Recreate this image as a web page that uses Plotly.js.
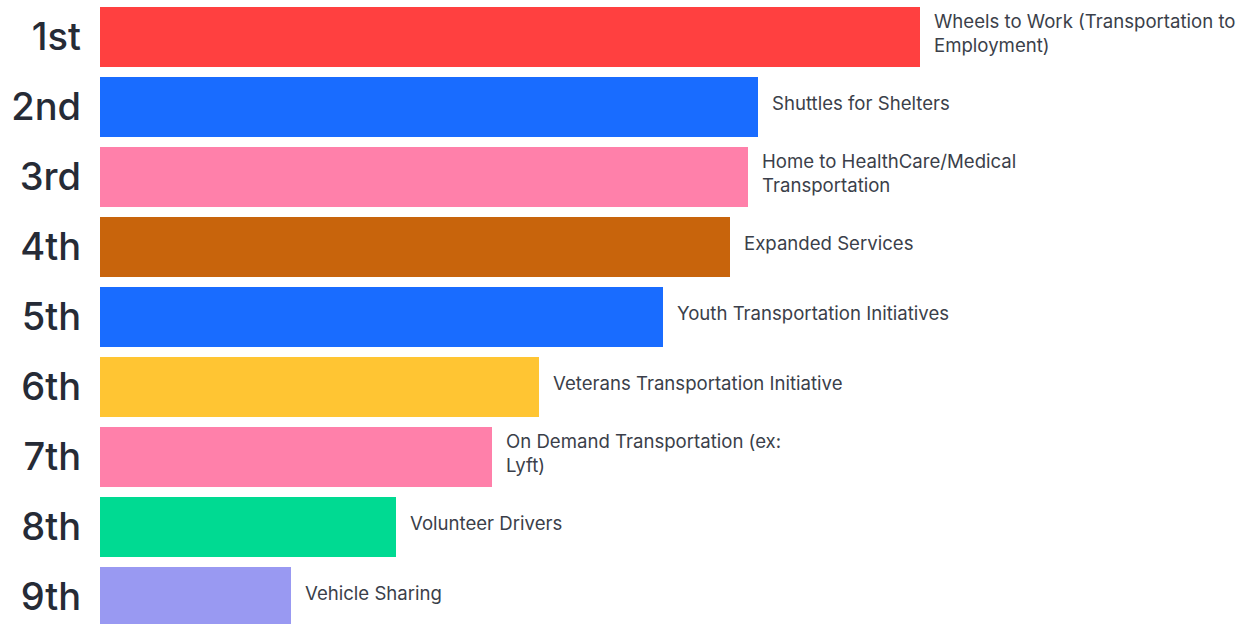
<!DOCTYPE html>
<html>
<head>
<meta charset="utf-8">
<script src="https://cdn.plot.ly/plotly-3.0.1.min.js"></script>
<style>html,body{margin:0;padding:0;background:#fff;}#chart{width:1254px;height:624px;}</style>
</head>
<body>
<div id="chart"></div>
<script>
const ranks = ["1st","2nd","3rd","4th","5th","6th","7th","8th","9th"];
const labels = [
  "Wheels to Work (Transportation to<br>Employment)",
  "Shuttles for Shelters",
  "Home to HealthCare/Medical<br>Transportation",
  "Expanded Services",
  "Youth Transportation Initiatives",
  "Veterans Transportation Initiative",
  "On Demand Transportation (ex:<br>Lyft)",
  "Volunteer Drivers",
  "Vehicle Sharing"
];
const scores = [8.20, 6.58, 6.48, 6.30, 5.63, 4.39, 3.92, 2.96, 1.91];
const colors = ["#ff4040","#196cff","#ff80aa","#c8640c","#196cff","#ffc533","#ff80aa","#00da92","#9999f2"];

const trace = {
  type: "bar",
  orientation: "h",
  x: scores,
  y: ranks,
  marker: {color: colors, line: {width: 0}},
  hoverinfo: "none"
};

const annotations = ranks.map((r, i) => ({
  x: scores[i], y: r, xref: "x", yref: "y",
  text: labels[i], showarrow: false,
  xanchor: "left", yanchor: "middle", align: "left", xshift: 12, yshift: 4,
  font: {family: "Inter, 'Open Sans', sans-serif", size: 18.6, color: "#3b3f4a"}
}));

const layout = {
  width: 1254, height: 624,
  margin: {l: 100, r: 0, t: 2, b: 0},
  paper_bgcolor: "#ffffff", plot_bgcolor: "#ffffff",
  showlegend: false,
  bargap: 0.143,
  xaxis: {range: [0, 11.54], visible: false, fixedrange: true},
  yaxis: {
    type: "category", categoryorder: "array", categoryarray: ranks,
    range: [8.386, -0.5],
    showgrid: false, zeroline: false, showline: false, ticks: "",
    ticklabelstandoff: 18,
    tickfont: {family: "Inter, 'Open Sans', sans-serif", size: 38, color: "#262b36", weight: 500}
  },
  annotations: annotations
};

Plotly.newPlot("chart", [trace], layout, {displayModeBar: false, staticPlot: true});
</script>
</body>
</html>
